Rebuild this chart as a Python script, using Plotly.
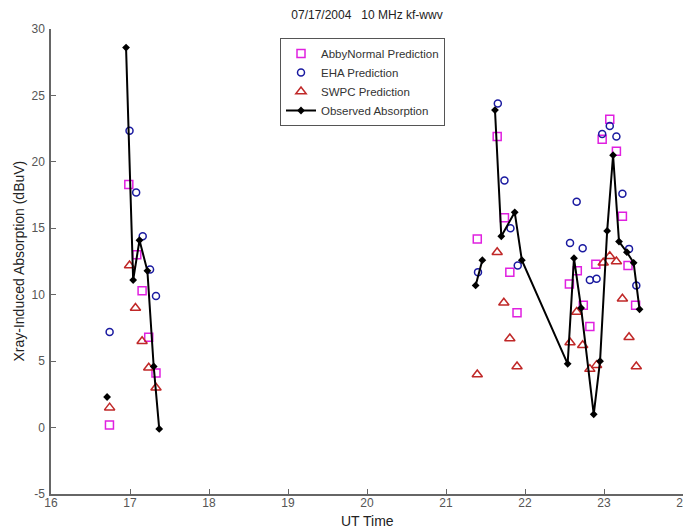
import plotly.graph_objects as go

# ---- Data ----
# Observed absorption (None = break in line)
obs_x = [16.71, None, 16.95, 17.04, 17.12, 17.22, 17.30, 17.37, None,
         21.375, 21.46, None, 21.62, 21.70, 21.87, 21.96, 22.54, 22.62, 22.71,
         22.87, 22.95, 23.04, 23.115, 23.19, 23.29, 23.375, 23.45]
obs_y = [2.3, None, 28.6, 11.1, 14.1, 11.8, 4.6, -0.1, None,
         10.7, 12.6, None, 23.9, 14.4, 16.2, 12.6, 4.8, 12.75, 9.0,
         1.0, 5.0, 14.8, 20.5, 14.0, 13.2, 12.4, 8.9]

# AbbyNormal Prediction
abby_x = [16.74, 16.985, 17.086, 17.153, 17.237, 17.329,
          21.396, 21.648, 21.74, 21.808, 21.899, 22.562, 22.662, 22.738, 22.821,
          22.897, 22.977, 23.073, 23.157, 23.233, 23.304, 23.40]
abby_y = [0.2, 18.3, 13.0, 10.3, 6.8, 4.1,
          14.2, 21.9, 15.8, 11.7, 8.65, 10.8, 11.8, 9.2, 7.6,
          12.3, 21.7, 23.2, 20.8, 15.9, 12.2, 9.2]

# EHA Prediction
eha_x = [16.742, 16.994, 17.078, 17.161, 17.254, 17.329,
         21.405, 21.656, 21.74, 21.816, 21.908, 22.57, 22.654, 22.73, 22.821,
         22.906, 22.977, 23.073, 23.157, 23.233, 23.317, 23.409]
eha_y = [7.2, 22.35, 17.7, 14.4, 11.9, 9.9,
         11.7, 24.4, 18.6, 15.0, 12.2, 13.9, 17.0, 13.5, 11.1,
         11.2, 22.1, 22.7, 21.9, 17.6, 13.45, 10.7]

# SWPC Prediction
swpc_x = [16.742, 16.994, 17.069, 17.153, 17.237, 17.329,
          21.396, 21.648, 21.732, 21.808, 21.899, 22.57, 22.654, 22.73, 22.821,
          22.906, 22.99, 23.073, 23.157, 23.233, 23.317, 23.409]
swpc_y = [1.5, 12.2, 9.0, 6.5, 4.5, 3.0,
          4.0, 13.2, 9.4, 6.7, 4.6, 6.4, 8.7, 6.2, 4.4,
          4.7, 12.4, 12.9, 12.5, 9.7, 6.8, 4.6]

x_ticks = [16, 17, 18, 19, 20, 21, 22, 23, 24]
y_ticks = [-5, 0, 5, 10, 15, 20, 25, 30]

FONT = "Liberation Sans, Arial, sans-serif"
# page has an 8px body margin, so figure is 683x524 drawn at (8, 8)
W, H = 683, 524
L, R, T, B = 43, 8, 21, 38
PW, PH = W - L - R, H - T - B

fig = go.Figure()
fig.add_trace(go.Scatter(
    x=abby_x, y=abby_y, mode="markers", name="AbbyNormal Prediction",
    marker=dict(symbol="square-open", size=8, color="#e020e0",
                line=dict(width=1.5, color="#e020e0"))))
fig.add_trace(go.Scatter(
    x=eha_x, y=eha_y, mode="markers", name="EHA Prediction",
    marker=dict(symbol="circle-open", size=7, color="#1a1aa0",
                line=dict(width=1.5, color="#1a1aa0"))))
fig.add_trace(go.Scatter(
    x=swpc_x, y=swpc_y, mode="markers", name="SWPC Prediction",
    marker=dict(symbol="triangle-up-open", size=9, color="#c02828",
                line=dict(width=1.5, color="#c02828"))))
fig.add_trace(go.Scatter(
    x=obs_x, y=obs_y, mode="lines+markers", name="Observed Absorption",
    connectgaps=False,
    line=dict(color="black", width=2),
    marker=dict(symbol="diamond", size=6, color="black")))

fig.update_layout(
    width=W, height=H,
    margin=dict(l=L, r=R, t=T, b=B, autoexpand=False),
    paper_bgcolor="white", plot_bgcolor="white",
    font=dict(family=FONT, size=12, color="#333"),
    title=dict(text="07/17/2004   10 MHz kf-wwv", x=(L + PW / 2) / W,
               xanchor="center", y=1 - 6.5 / H, yanchor="middle",
               font=dict(family=FONT, size=12, color="#222")),
    showlegend=True,
    legend=dict(x=(272 - L) / PW, y=(486 - 30) / PH, xanchor="left", yanchor="top",
                bgcolor="white", bordercolor="#555", borderwidth=1,
                font=dict(family=FONT, size=11.5, color="#333"),
                tracegroupgap=0, itemwidth=30),
    xaxis=dict(range=[16, 24], tickmode="array", tickvals=x_ticks,
               ticktext=[str(v) for v in x_ticks], automargin=False,
               showgrid=False, zeroline=False, showline=True, linecolor="#666",
               linewidth=1.5, ticks="inside", ticklen=5, tickcolor="#666",
               ticklabelstandoff=-3, ticklabeloverflow="allow",
               tickfont=dict(family=FONT, size=12, color="#555")),
    yaxis=dict(range=[-5, 30], tickmode="array", tickvals=y_ticks,
               ticktext=[str(v) for v in y_ticks], automargin=False,
               showgrid=False, zeroline=False, showline=True, linecolor="#666",
               linewidth=1.5, ticks="inside", ticklen=5, tickcolor="#666",
               ticklabelstandoff=2, ticklabeloverflow="allow",
               tickfont=dict(family=FONT, size=12, color="#555")),
    annotations=[
        dict(text="UT Time", xref="paper", yref="paper",
             x=0.5, y=-27 / PH, xanchor="center", yanchor="middle",
             showarrow=False, font=dict(family=FONT, size=14, color="#222")),
        dict(text="Xray-Induced Absorption (dBuV)", xref="paper", yref="paper",
             x=-33 / PW, y=0.5, xanchor="center", yanchor="middle", textangle=-90,
             showarrow=False, font=dict(family=FONT, size=14, color="#222")),
    ],
)

fig.write_html("out.html")
